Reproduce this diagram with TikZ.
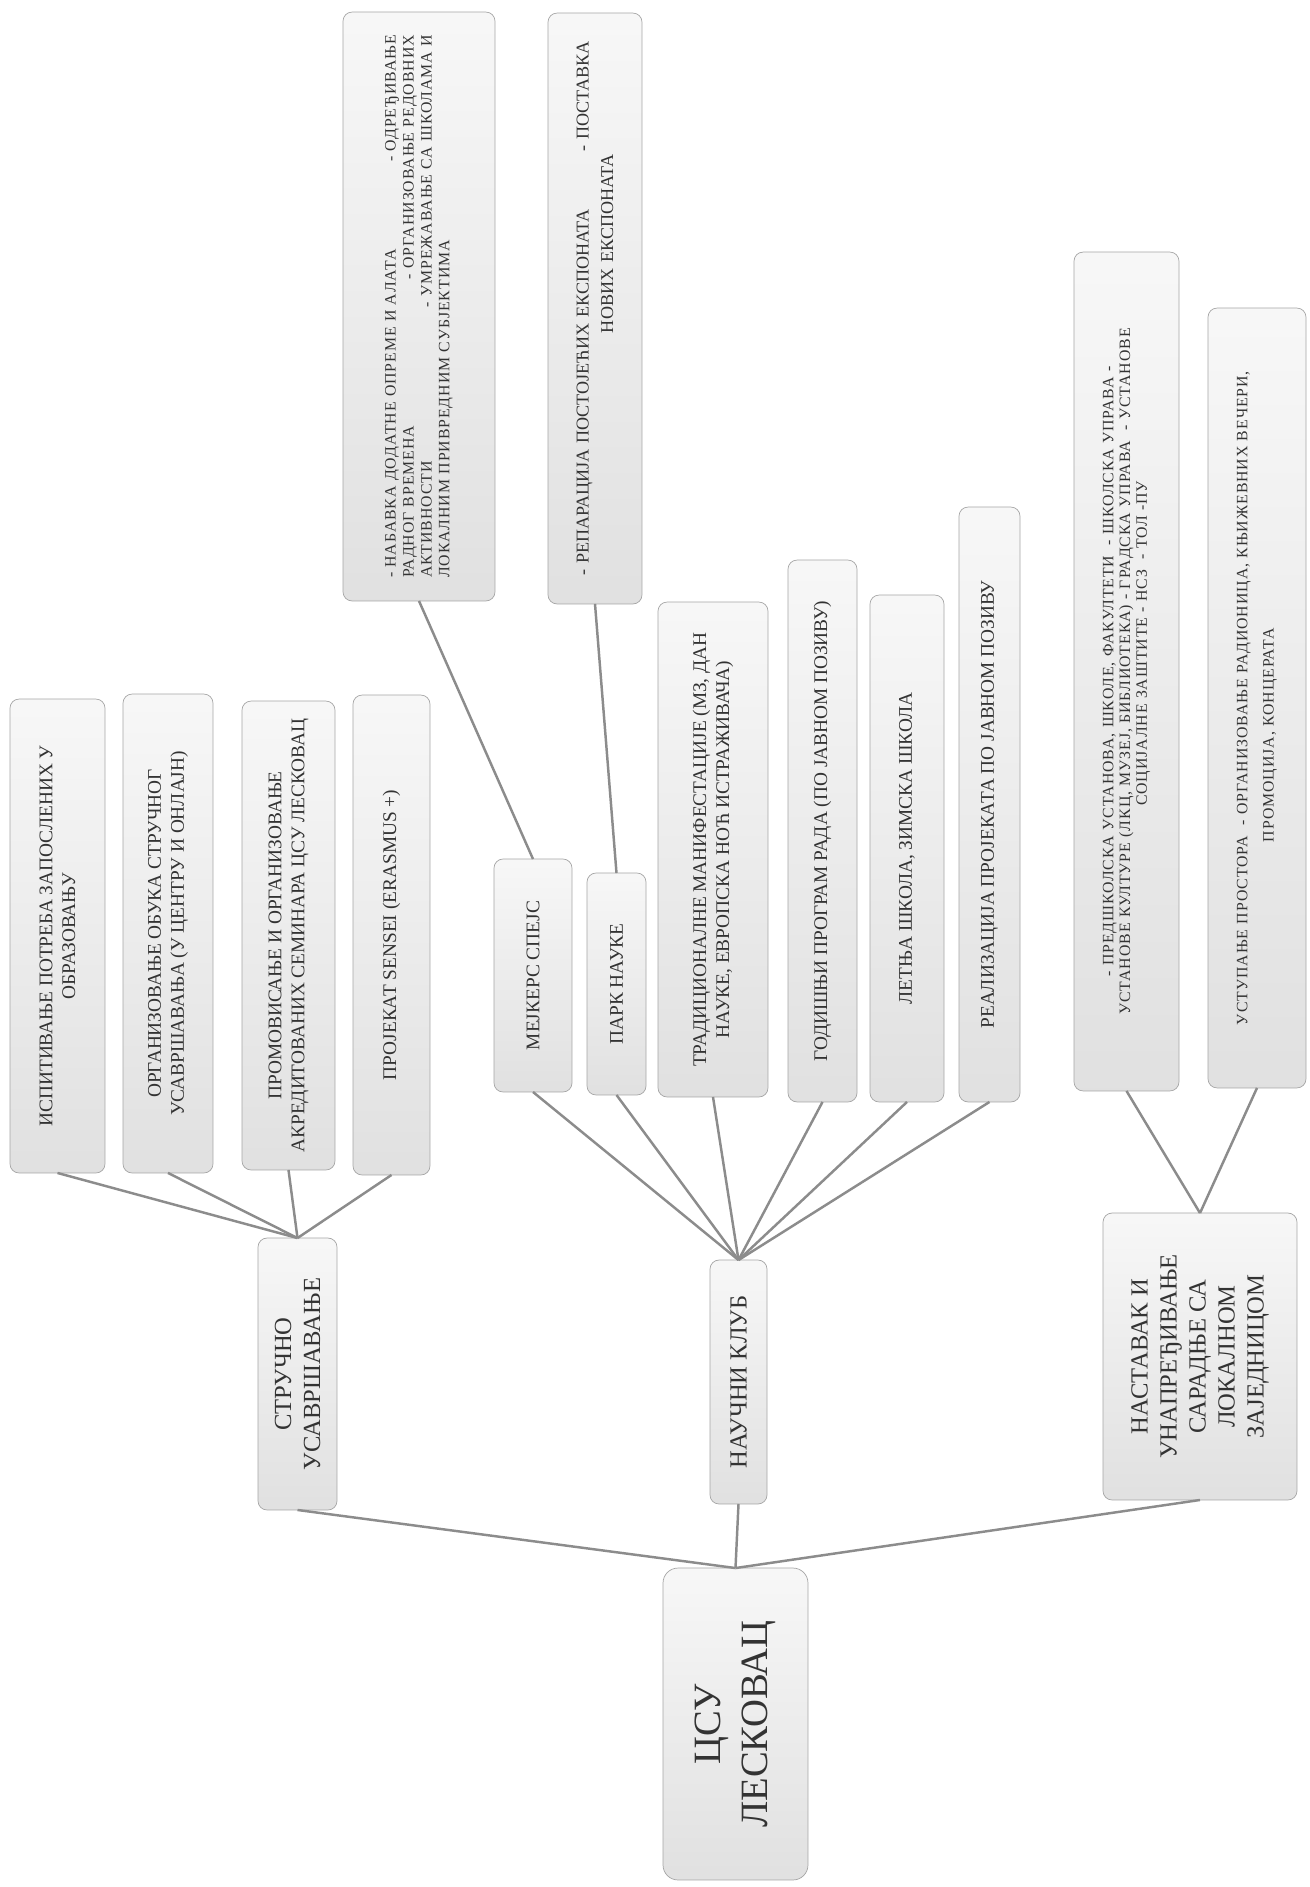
\documentclass[tikz,border=0pt]{standalone}
\usepackage{fontspec}
\setmainfont{Liberation Serif}
\begin{document}
\begin{tikzpicture}
  [x=0.02cm,y=-0.02cm,
   box/.style={rectangle,rounded corners=0.18cm,draw=black!35,thin,
               top color=black!3,bottom color=black!12,text=black!80,
               rotate=90,align=center,inner sep=0,outer sep=0,
               font=\fontsize{11}{13}\selectfont},
   head/.style={box,font=\fontsize{14}{16.5}\selectfont},
   root/.style={box,rounded corners=0.3cm,font=\fontsize{22}{27}\selectfont},
   wide/.style={box,font=\fontsize{9}{9.5}\selectfont\addfontfeatures{LetterSpace=6}},
   link/.style={draw=black!45,line width=1.4pt}]
  \path[use as bounding box,fill=white] (0,0) rectangle (1309,1887);
  % root and first level
  \node[root,minimum width=6.24cm,minimum height=2.9cm] (csu) at (735.5,1724) {ЦСУ\\ЛЕСКОВАЦ};
  \node[head,minimum width=5.44cm,minimum height=1.58cm] (strucno) at (297.5,1374) {СТРУЧНО\\УСАВРШАВАЊЕ};
  \node[head,minimum width=4.88cm,minimum height=1.14cm] (klub) at (738.5,1382) {НАУЧНИ КЛУБ};
  \node[head,minimum width=5.74cm,minimum height=3.88cm] (zajednica) at (1200,1356.5)
    {НАСТАВАК И\\УНАПРЕЂИВАЊЕ\\САРАДЊЕ СА\\ЛОКАЛНОМ\\ЗАЈЕДНИЦОМ};
  % strucno usavrsavanje
  \node[box,minimum width=9.48cm,minimum height=1.9cm] (ispitivanje) at (57.5,936)
    {ИСПИТИВАЊЕ ПОТРЕБА ЗАПОСЛЕНИХ У\\ОБРАЗОВАЊУ};
  \node[box,minimum width=9.58cm,minimum height=1.8cm] (obuke) at (168,933.5)
    {ОРГАНИЗОВАЊЕ ОБУКА СТРУЧНОГ\\УСАВРШАВАЊА (У ЦЕНТРУ И ОНЛАЈН)};
  \node[box,minimum width=9.38cm,minimum height=1.86cm] (seminari) at (288.5,935.5)
    {ПРОМОВИСАЊЕ И ОРГАНИЗОВАЊЕ\\АКРЕДИТОВАНИХ СЕМИНАРА ЦСУ ЛЕСКОВАЦ};
  \node[box,minimum width=9.6cm,minimum height=1.54cm] (sensei) at (391.5,935)
    {ПРОЈЕКАТ SENSEI (ERASMUS +)};
  % naucni klub
  \node[box,minimum width=4.66cm,minimum height=1.56cm] (mejkers) at (533,975.5) {МЕЈКЕРС СПЕЈС};
  \node[box,minimum width=4.44cm,minimum height=1.18cm] (park) at (616.5,984) {ПАРК НАУКЕ};
  \node[box,minimum width=9.9cm,minimum height=2.2cm] (manifestacije) at (713,849.5)
    {ТРАДИЦИОНАЛНЕ МАНИФЕСТАЦИЈЕ (МЗ, ДАН\\НАУКЕ, ЕВРОПСКА НОЋ ИСТРАЖИВАЧА)};
  \node[box,minimum width=10.84cm,minimum height=1.38cm] (program) at (822.5,831)
    {ГОДИШЊИ ПРОГРАМ РАДА (ПО ЈАВНОМ ПОЗИВУ)};
  \node[box,minimum width=10.14cm,minimum height=1.48cm] (skola) at (907,848.5)
    {ЛЕТЊА ШКОЛА, ЗИМСКА ШКОЛА};
  \node[box,minimum width=11.9cm,minimum height=1.22cm] (projekti) at (989.5,804.5)
    {РЕАЛИЗАЦИЈА ПРОЈЕКАТА ПО ЈАВНОМ ПОЗИВУ};
  \node[box,align=left,text width=10.86cm,minimum width=11.78cm,minimum height=3.04cm,
        font=\fontsize{9}{10.2}\selectfont\addfontfeatures{LetterSpace=6}] (oprema) at (419,306.5)
    {- НАБАВКА ДОДАТНЕ ОПРЕМЕ И АЛАТА\hfill - ОДРЕЂИВАЊЕ\\
     РАДНОГ ВРЕМЕНА\hfill - ОРГАНИЗОВАЊЕ РЕДОВНИХ\\
     АКТИВНОСТИ\hfill - УМРЕЖАВАЊЕ СА ШКОЛАМА И\\
     ЛОКАЛНИМ ПРИВРЕДНИМ СУБЈЕКТИМА};
  \node[box,align=left,text width=10.7cm,minimum width=11.82cm,minimum height=1.88cm,
        font=\fontsize{10.3}{14}\selectfont] (eksponati) at (595,308.5)
    {- РЕПАРАЦИЈА ПОСТОЈЕЋИХ ЕКСПОНАТА\hfill - ПОСТАВКА\\
     \hspace*{4.86cm}НОВИХ ЕКСПОНАТА};
  % lokalna zajednica
  \node[wide,text width=16.2cm,minimum width=16.78cm,minimum height=2.1cm] (ustanove) at (1126.5,671.5)
    {- ПРЕДШКОЛСКА УСТАНОВА, ШКОЛЕ, ФАКУЛТЕТИ \ - ШКОЛСКА УПРАВА -\\
     УСТАНОВЕ КУЛТУРЕ (ЛКЦ, МУЗЕЈ, БИБЛИОТЕКА) - ГРАДСКА УПРАВА \ - УСТАНОВЕ\\
     \hspace*{1.12cm}СОЦИЈАЛНЕ ЗАШТИТЕ - НСЗ \ - ТОЛ -ПУ};
  \node[wide,text width=15.2cm,minimum width=15.6cm,minimum height=1.96cm,
        font=\fontsize{9}{15}\selectfont\addfontfeatures{LetterSpace=6}] (prostor) at (1257,698)
    {УСТУПАЊЕ ПРОСТОРА \ - ОРГАНИЗОВАЊЕ РАДИОНИЦА, КЊИЖЕВНИХ ВЕЧЕРИ,\\
     ПРОМОЦИЈА, КОНЦЕРАТА\hspace*{1.48cm}};
  \draw[link] (csu.east) -- (strucno.west);
  \draw[link] (csu.east) -- (klub.west);
  \draw[link] (csu.east) -- (zajednica.west);
  \draw[link] (strucno.east) -- (ispitivanje.west);
  \draw[link] (strucno.east) -- (obuke.west);
  \draw[link] (strucno.east) -- (seminari.west);
  \draw[link] (strucno.east) -- (sensei.west);
  \draw[link] (klub.east) -- (mejkers.west);
  \draw[link] (klub.east) -- (park.west);
  \draw[link] (klub.east) -- (manifestacije.west);
  \draw[link] (klub.east) -- (program.west);
  \draw[link] (klub.east) -- (skola.west);
  \draw[link] (klub.east) -- (projekti.west);
  \draw[link] (mejkers.east) -- (oprema.west);
  \draw[link] (park.east) -- (eksponati.west);
  \draw[link] (zajednica.east) -- (ustanove.west);
  \draw[link] (zajednica.east) -- (prostor.west);
\end{tikzpicture}
\end{document}
